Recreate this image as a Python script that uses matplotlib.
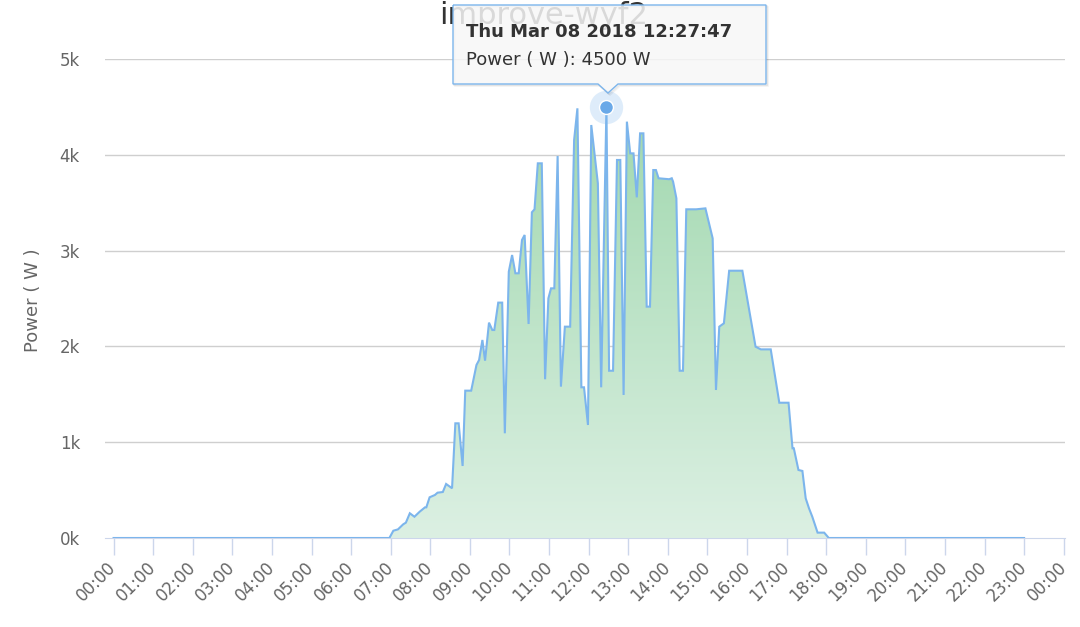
import numpy as np
import matplotlib
matplotlib.use("Agg")
from matplotlib import pyplot as plt
from matplotlib.colors import LinearSegmentedColormap
from matplotlib.path import Path
from matplotlib.patches import PathPatch

plt.rcParams["font.family"] = ["DejaVu Sans"]

# ==== 資料 (分鐘 / 功率 W) ====
minutes = [0, 418, 424, 431, 439, 443, 449, 456, 464, 472,
           474, 479, 487, 491, 499, 504, 513, 518, 523, 529,
           533, 542, 550, 554, 559, 563, 569, 574, 577, 583,
           589, 593, 599, 604, 609, 614, 619, 623, 629, 634,
           638, 643, 649, 654, 659, 663, 668, 673, 678, 684,
           692, 698, 703, 709, 713, 719, 724, 734, 739, 747,
           751, 757, 763, 768, 773, 778, 783, 788, 793, 798,
           803, 808, 813, 818, 822, 826, 842, 846, 848, 853,
           858, 863, 868, 883, 897, 908, 913, 918, 925, 933,
           953, 973, 981, 996, 1009, 1023, 1029, 1031, 1038, 1044,
           1049, 1054, 1059, 1067, 1077, 1084, 1380]
power = [0, 0, 76, 90, 143, 160, 258, 222, 275, 320,
         320, 425, 449, 473, 480, 564, 519, 1197, 1197, 752,
         1538, 1538, 1806, 1858, 2067, 1851, 2248, 2171, 2171, 2457,
         2457, 1093, 2780, 2954, 2763, 2763, 3111, 3163, 2234, 3400,
         3431, 3911, 3911, 1657, 2502, 2606, 2606, 3987, 1580, 2206,
         2206, 4154, 4485, 1573, 1573, 1180, 4311, 3702, 1573, 4500,
         1746, 1746, 3946, 3946, 1493, 4346, 4015, 4015, 3556, 4224,
         4224, 2415, 2415, 3841, 3841, 3755, 3745, 3755, 3720, 3546,
         1746, 1746, 3431, 3431, 3441, 3128, 1545, 2206, 2241, 2790,
         2790, 1997, 1969, 1969, 1412, 1412, 936, 936, 710, 700,
         414, 310, 222, 56, 56, 0, 0]

tick_minutes = list(range(0, 1441, 60))
tick_labels = [f"{(m // 60) % 24:02d}:00" for m in tick_minutes]
y_ticks = [0, 1000, 2000, 3000, 4000, 5000]
y_labels = ["0k", "1k", "2k", "3k", "4k", "5k"]

hover_min, hover_val = 747, 4500
tip_line1 = "Thu Mar 08 2018 12:27:47"
tip_line2 = "Power ( W ): 4500 W"

W, H = 1080, 627


def fx(px):
    return px / W


def fy(py):
    return 1 - py / H


fig = plt.figure(figsize=(10.8, 6.27), dpi=100)
ax = fig.add_axes([fx(105), fy(538), fx(1065) - fx(105), fy(59) - fy(538)])

xmin, xmax = -13, 1442
ax.set_xlim(xmin, xmax)
ax.set_ylim(0, 5000)

# grid
for v in y_ticks[1:]:
    ax.axhline(v, color="#cfcfcf", lw=1, zorder=0)

# 漸層填色
t = np.array(minutes, dtype=float)
p = np.array(power, dtype=float)
verts = np.column_stack([np.r_[t, t[-1], t[0]], np.r_[p, 0, 0]])
clip = PathPatch(Path(verts), transform=ax.transData, facecolor="none", edgecolor="none")
ax.add_patch(clip)
cmap = LinearSegmentedColormap.from_list("g", ["#dcf0e3", "#9fd7ad"])
grad = np.linspace(0, 1, 256).reshape(-1, 1)
im = ax.imshow(grad, extent=[xmin, xmax, 0, 4600], origin="lower", aspect="auto",
               cmap=cmap, zorder=1, interpolation="bilinear")
im.set_clip_path(clip)

ax.plot(t, p, color="#7cb5ec", lw=1.5, zorder=3, solid_joinstyle="miter")

# hover 點
ax.plot([hover_min], [hover_val], "o", ms=24, color="#7cb5ec", alpha=0.25, mec="none", zorder=4)
ax.plot([hover_min], [hover_val], "o", ms=10, color="#6aa9e8", mec="white", mew=1, zorder=5)

# axes style
for s in ["top", "right", "left"]:
    ax.spines[s].set_visible(False)
ax.spines["bottom"].set_color("#ccd6eb")
ax.spines["bottom"].set_zorder(2)
ax.set_xticks(tick_minutes)
ax.set_xticklabels(tick_labels, rotation=45, ha="right", va="center", rotation_mode="anchor")
ax.tick_params(axis="x", length=12, color="#ccd6eb", width=1, labelsize=12, labelcolor="#666666", pad=7)
ax.set_yticks(y_ticks)
ax.set_yticklabels(y_labels)
ax.tick_params(axis="y", length=0, labelsize=12, labelcolor="#666666", pad=18)
ax.set_ylabel("Power ( W )", fontsize=13, color="#666666", labelpad=8)
ax.yaxis.set_label_coords(fx(34) - fx(105), 0.5 + (fy(300) - fy(298)))

# 標題
fig.text(fx(544), fy(24), "improve-wyf2", ha="center", va="baseline", fontsize=22, color="#333333", zorder=1)

# tooltip 框
x0, x1, y0, y1 = 453, 766, 5, 84
px0, px1, tip_x, tip_y = 598, 618, 608, 93
box = [(x0, y0), (x1, y0), (x1, y1), (px1, y1), (tip_x, tip_y), (px0, y1), (x0, y1), (x0, y0)]
for off, a in [(2, 0.05), (1, 0.08)]:
    sh = Path([(fx(x + off), fy(y + off)) for x, y in box])
    fig.add_artist(PathPatch(sh, transform=fig.transFigure, facecolor="none",
                             edgecolor="black", alpha=a, lw=1.2, zorder=8))
tp = Path([(fx(x), fy(y)) for x, y in box])
fig.add_artist(PathPatch(tp, transform=fig.transFigure, facecolor=(0.97, 0.97, 0.97, 0.85),
                         edgecolor="#7cb5ec", lw=1, zorder=9))
fig.text(fx(466), fy(32), tip_line1, ha="left", va="center", fontsize=13, fontweight="bold",
         color="#333333", zorder=10)
fig.text(fx(466), fy(60), tip_line2, ha="left", va="center", fontsize=13, color="#333333", zorder=10)

fig.savefig("out.png", dpi=100)
